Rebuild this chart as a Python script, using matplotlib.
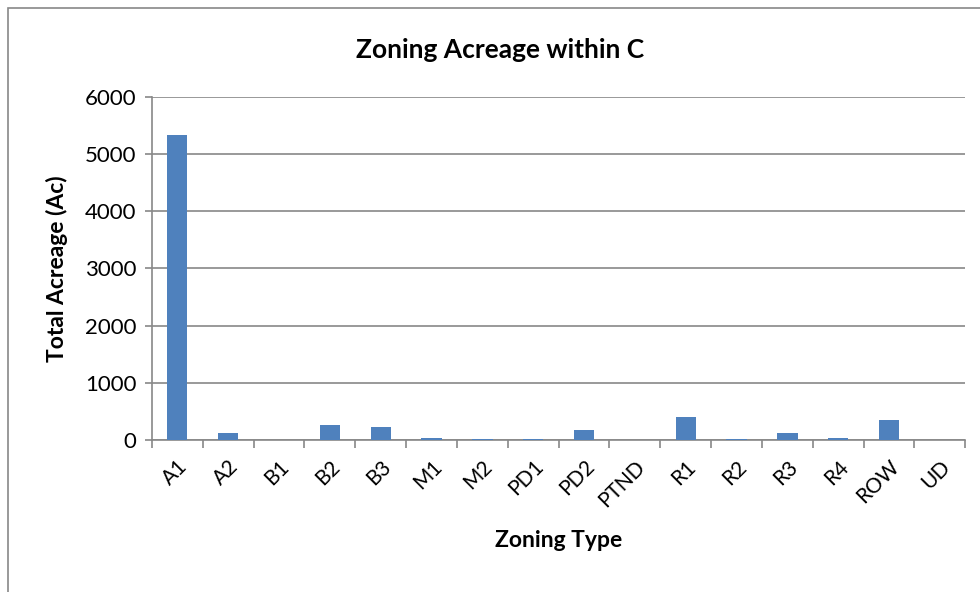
import matplotlib.pyplot as plt
from matplotlib.patches import Rectangle

zones = ["A1", "A2", "B1", "B2", "B3", "M1", "M2", "PD1", "PD2", "PTND",
         "R1", "R2", "R3", "R4", "ROW", "UD"]
acreage = [5330, 120, 0, 255, 230, 35, 15, 10, 180, 0,
           400, 15, 120, 25, 340, 5]

plt.rcParams['font.family'] = ['Lato', 'DejaVu Sans']

fig = plt.figure(figsize=(9.8, 5.92), dpi=100)
fig.patches.append(Rectangle((8 / 980, -0.1), 1.1, 1 - 8 / 592 + 0.1,
                             transform=fig.transFigure, fill=False,
                             edgecolor="#888888", linewidth=1.2))

ax = fig.add_axes([0.155, 0.257, 0.83, 0.579])
x = range(len(zones))
ax.bar(x, acreage, width=0.4, color="#4F81BD", zorder=3)

ax.set_xlim(-0.5, len(zones) - 0.5)
ax.set_ylim(0, 6000)
ax.set_yticks(range(0, 6001, 1000))
ax.tick_params(axis='y', labelsize=16, length=5, color="#888888", width=1.2, pad=6)
ax.set_xticks(list(x))
ax.set_xticklabels(zones, rotation=45, ha='right', rotation_mode='anchor', fontsize=15)
ax.tick_params(axis='x', length=0, pad=12)
ax.set_xticks([i + 0.5 for i in range(-1, len(zones))], minor=True)
ax.tick_params(axis='x', which='minor', length=6, color="#888888", width=1.2)

ax.grid(axis='y', color="#888888", linewidth=1.2, zorder=0)
for s in ["top", "right"]:
    ax.spines[s].set_visible(False)
for s in ["left", "bottom"]:
    ax.spines[s].set_color("#888888")
    ax.spines[s].set_linewidth(1.2)

fig.text(500 / 980, 1 - 50 / 592, "Zoning Acreage within C", fontsize=19,
         fontweight='bold', ha='center', va='center')
ax.set_ylabel("Total Acreage (Ac)", fontsize=16.5, fontweight='bold', labelpad=12)
ax.set_xlabel("Zoning Type", fontsize=16.5, fontweight='bold', labelpad=14)

fig.savefig("out.png", dpi=100)
